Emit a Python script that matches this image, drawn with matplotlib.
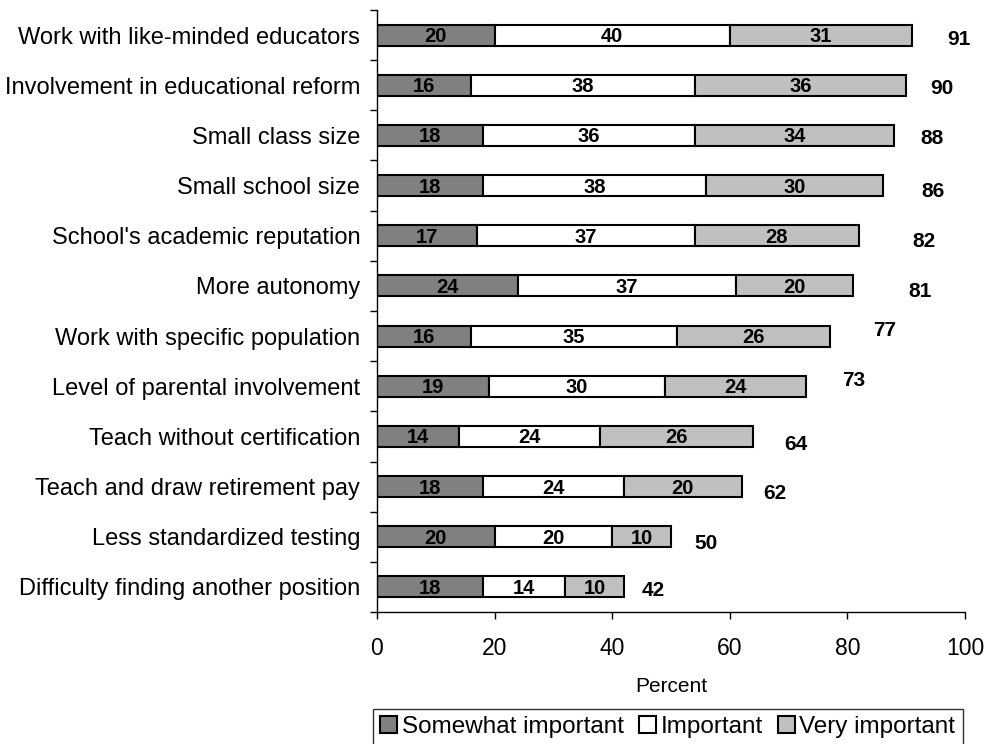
import numpy as np
import matplotlib.pyplot as plt
from matplotlib.ticker import FixedLocator

# reasons, listed top to bottom as in the chart
reasons = [
    "Work with like-minded educators",
    "Involvement in educational reform",
    "Small class size",
    "Small school size",
    "School's academic reputation",
    "More autonomy",
    "Work with specific population",
    "Level of parental involvement",
    "Teach without certification",
    "Teach and draw retirement pay",
    "Less standardized testing",
    "Difficulty finding another position",
]
somewhat = [20, 16, 18, 18, 17, 24, 16, 19, 14, 18, 20, 18]
important = [40, 38, 36, 38, 37, 37, 35, 30, 24, 24, 20, 14]
very = [31, 36, 34, 30, 28, 20, 26, 24, 26, 20, 10, 10]
totals = [91, 90, 88, 86, 82, 81, 77, 73, 64, 62, 50, 42]

# placement of the total labels (data units right of bar, points downward)
total_dx = [8.0, 6.0, 6.4, 8.5, 11.0, 11.3, 9.4, 8.0, 7.3, 5.7, 6.0, 5.0]
total_dy = [3.5, 2.5, 2.5, 4, 4, 4, -4, -4, 5.5, 5, 5, 2.5]

plt.rcParams["font.family"] = ["Liberation Sans", "DejaVu Sans"]

fig = plt.figure(figsize=(9.91, 7.44), dpi=100)
ax = fig.add_axes([0.3804, 0.1774, 0.5934, 0.8092])

y = np.arange(len(reasons))
s = np.array(somewhat)
m = np.array(important)
v = np.array(very)

series = [
    (s, np.zeros_like(s), "#808080", "Somewhat important"),
    (m, s, "#FFFFFF", "Important"),
    (v, s + m, "#C0C0C0", "Very important"),
]
for vals, left, col, name in series:
    bars = ax.barh(y, vals, left=left, height=0.42, color=col,
                   edgecolor="black", linewidth=1.5, label=name)
    for b, val in zip(bars, vals):
        ax.text(b.get_x() + b.get_width() / 2, b.get_y() + b.get_height() / 2 + 0.03,
                str(val), ha="center", va="center", fontsize=14.5,
                fontweight="bold")

for i, t in enumerate(totals):
    ax.annotate(str(t), (t + total_dx[i], y[i]), xytext=(0, -total_dy[i]),
                textcoords="offset points", ha="center", va="center",
                fontsize=15, fontweight="bold")

ax.set_xlim(0, 100)
ax.set_ylim(len(reasons) - 0.5, -0.5)
ax.set_xticks([0, 20, 40, 60, 80, 100])
ax.tick_params(axis="x", labelsize=16.5, length=5, width=1, pad=13)

ax.set_yticks(y)
ax.set_yticklabels(reasons, fontsize=17)
ax.tick_params(axis="y", which="major", length=0, pad=12)
ax.yaxis.set_minor_locator(FixedLocator(np.arange(-0.5, len(reasons), 1)))
ax.tick_params(axis="y", which="minor", length=5, width=1)

for side in ["top", "right"]:
    ax.spines[side].set_visible(False)
ax.spines["left"].set_linewidth(1)
ax.spines["bottom"].set_linewidth(1)

ax.set_xlabel("Percent", fontsize=15, labelpad=12)

leg = fig.legend(loc="upper center", bbox_to_anchor=(0.674, 0.047), ncol=3,
                 fontsize=17.5, frameon=True, fancybox=False, handlelength=0.7,
                 handleheight=0.7, handletextpad=0.2, columnspacing=0.6,
                 borderpad=0.3, borderaxespad=0)
leg.get_frame().set_edgecolor("black")
leg.get_frame().set_linewidth(1)

fig.savefig("out.png", dpi=100)
